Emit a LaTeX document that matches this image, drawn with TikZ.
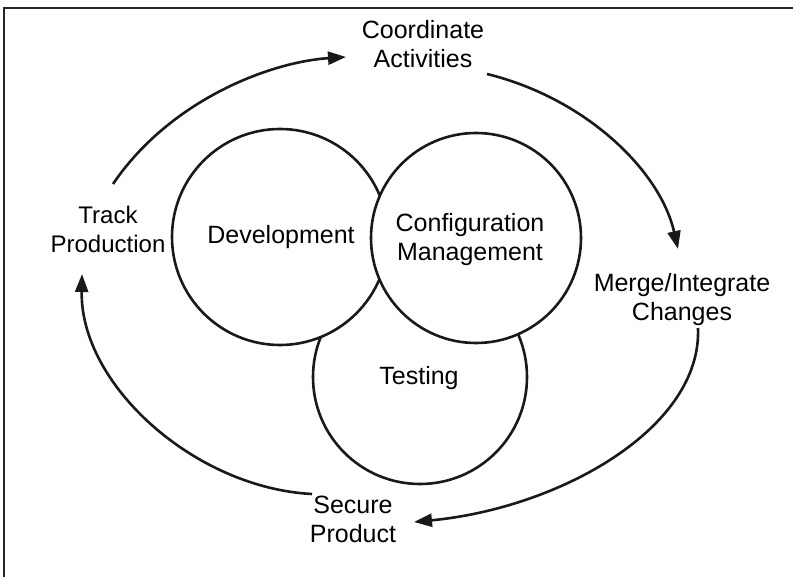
\documentclass[tikz,border=0pt]{standalone}
\usepackage{fontspec}
\setmainfont{Liberation Sans}
\usetikzlibrary{arrows.meta}
\begin{document}
\begin{tikzpicture}[x=1pt,y=-1pt,
  lbl/.style={align=center,font=\fontsize{25}{29}\selectfont,inner sep=0pt},
  ring/.style={draw=black!90,line width=2.6pt,fill=white},
  flow/.style={draw=black!90,line width=2.6pt,-{Triangle[length=18pt,width=13pt]}},
  frameline/.style={draw=black!85,line width=2pt}]
\useasboundingbox (0,0) rectangle (793,577);
\draw[frameline] (3.5,577) -- (3.5,8.5) -- (793,8.5);
% circles
\draw[ring] (420,377) circle (107);
\draw[ring] (280,237) circle (108);
\draw[ring] (476,238) circle (105);
% labels
\node[lbl] (dev) at (281,237) {Development};
\node[lbl] (cm) at (470,240) {Configuration\\Management};
\node[lbl] (test) at (419,378) {Testing};
\node[lbl] (coord) at (423,44) {Coordinate\\Activities};
\node[lbl, font=\fontsize{24}{29}\selectfont] (track) at (108,229) {Track\\Production};
\node[lbl] (merge) at (682,300) {Merge/Integrate\\Changes};
\node[lbl] (secure) at (353,519) {Secure\\Product};
% connectors
\coordinate (a1) at (113,184);
\coordinate (a2) at (346,57);
\coordinate (b1) at (487,74);
\coordinate (b2) at (678,249);
\coordinate (c1) at (698,328);
\coordinate (c2) at (414,522);
\coordinate (d1) at (312,494);
\coordinate (d2) at (82,274);
\draw[flow] (a1) .. controls (170,100) and (270,62) .. (a2);
\draw[flow] (b1) .. controls (585,98) and (660,170) .. (b2);
\draw[flow] (c1) .. controls (702,428) and (560,508) .. (c2);
\draw[flow] (d1) .. controls (195,488) and (80,385) .. (d2);
\end{tikzpicture}
\end{document}
